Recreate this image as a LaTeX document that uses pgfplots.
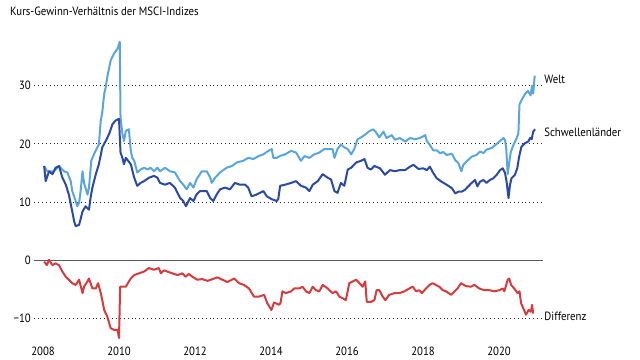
\documentclass[border=0pt]{standalone}
\usepackage{fontspec}
\setmainfont{PT Sans}[FakeStretch=0.9]
\usepackage{pgfplots}
\pgfplotsset{compat=1.18}
\definecolor{welt}{HTML}{5AA5DC}
\definecolor{schwell}{HTML}{2B4AA3}
\definecolor{diff}{HTML}{D63B3D}
\definecolor{zeroc}{HTML}{5A5A5A}
\begin{document}
\begin{tikzpicture}
\path[use as bounding box] (-34bp,-15bp) rectangle (606bp,345bp);
\node[anchor=base west, inner sep=0pt, font=\fontsize{12}{14}\selectfont] at (-24bp,329.5bp) {Kurs-Gewinn-Verhältnis der MSCI-Indizes};
\begin{axis}[
  scale only axis, width=509bp, height=309bp,
  xmin=2007.763, xmax=2021.158, ymin=-14.5, ymax=38.5,
  clip=false,
  axis line style={draw=none}, tick style={draw=none},
  xtick={2008,2010,2012,2014,2016,2018,2020},
  xticklabels={2008,2010,2012,2014,2016,2018,2020},
  ytick={-10,10,20,30},
  yticklabels={−10,10,20,30},
  extra y ticks={0}, extra y tick labels={0},
  ymajorgrids,
  major grid style={black!85, line width=0.8bp, dash pattern=on 0.8bp off 3.1bp},
  extra y tick style={major grid style={zeroc, line width=1.1bp, solid}},
  tick label style={font=\fontsize{12}{14}\selectfont},
  xticklabel style={anchor=north, inner sep=0pt, yshift=-2bp},
  yticklabel style={anchor=east, inner sep=0pt, xshift=-3bp},
  /pgf/number format/assume math mode=true,
  every axis plot/.append style={line width=2bp, line join=round},
]
\addplot[welt, sharp plot] coordinates {
(2008.03,16.2) (2008.11,15.3) (2008.29,15.3) (2008.42,16.2) (2008.55,15.3) (2008.64,15.1)
(2008.73,13.6) (2008.77,11.9) (2008.86,10.2) (2008.90,9.3) (2008.95,9.9) (2008.99,11.9)
(2009.04,15.3) (2009.08,13.3) (2009.17,11.3) (2009.21,12.5) (2009.27,17.1) (2009.34,18.2)
(2009.43,19.4) (2009.47,19.9) (2009.52,24.0) (2009.56,25.4) (2009.61,28.6) (2009.65,29.7)
(2009.69,31.4) (2009.78,34.3) (2009.87,35.5) (2009.96,36.3) (2010.02,37.5) (2010.04,24.5)
(2010.09,21.7) (2010.13,20.5) (2010.18,22.2) (2010.26,22.5) (2010.31,18.8) (2010.35,17.6)
(2010.40,17.1) (2010.48,15.1) (2010.57,15.6) (2010.66,15.9) (2010.75,15.6) (2010.83,15.9)
(2010.92,15.3) (2011.01,15.9) (2011.08,15.3) (2011.21,15.9) (2011.34,15.3) (2011.47,15.1)
(2011.61,13.6) (2011.69,13.0) (2011.78,12.2) (2011.87,13.3) (2011.96,12.5) (2012.04,13.9)
(2012.18,15.3) (2012.31,15.3) (2012.40,14.2) (2012.44,13.3) (2012.53,14.2) (2012.66,15.1)
(2012.83,15.9) (2012.97,16.2) (2013.10,16.8) (2013.27,17.1) (2013.40,17.6) (2013.54,17.4)
(2013.67,17.9) (2013.80,18.2) (2013.93,18.8) (2014.02,19.1) (2014.06,17.6) (2014.15,17.6)
(2014.23,17.9) (2014.37,18.2) (2014.53,18.8) (2014.66,18.5) (2014.79,17.1) (2014.88,17.9)
(2015.01,17.6) (2015.14,18.2) (2015.27,18.5) (2015.40,19.1) (2015.54,19.1) (2015.62,19.1)
(2015.67,17.6) (2015.75,19.1) (2015.84,19.9) (2015.93,19.4) (2016.02,19.1) (2016.11,18.2)
(2016.19,19.1) (2016.28,20.8) (2016.37,21.1) (2016.50,21.7) (2016.59,22.2) (2016.69,22.5)
(2016.76,22.0) (2016.85,21.1) (2016.96,22.1) (2017.04,21.0) (2017.18,21.5) (2017.26,20.7)
(2017.39,21.0) (2017.53,20.4) (2017.66,21.0) (2017.79,20.8) (2017.92,21.0) (2018.06,21.5)
(2018.10,20.5) (2018.18,19.8) (2018.27,18.9) (2018.36,18.9) (2018.45,18.4) (2018.54,18.6)
(2018.62,18.1) (2018.76,18.3) (2018.85,17.2) (2018.93,16.7) (2019.01,15.3) (2019.06,16.4)
(2019.15,17.0) (2019.28,17.8) (2019.41,18.1) (2019.50,18.7) (2019.59,18.4) (2019.67,19.0)
(2019.81,19.3) (2019.94,20.0) (2020.03,20.5) (2020.12,21.0) (2020.16,20.6) (2020.19,19.2)
(2020.23,14.8) (2020.27,16.8) (2020.31,18.6) (2020.38,19.8) (2020.46,20.9) (2020.51,21.8)
(2020.54,26.8) (2020.61,27.7) (2020.69,28.6) (2020.76,29.1) (2020.83,28.3) (2020.87,30.0)
(2020.90,28.6) (2020.94,31.7)
};
\addplot[schwell, sharp plot] coordinates {
(2008.03,16.2) (2008.07,13.6) (2008.16,15.3) (2008.25,14.8) (2008.33,15.9) (2008.42,16.2)
(2008.51,14.2) (2008.60,13.0) (2008.68,11.3) (2008.77,8.4) (2008.82,6.7) (2008.86,5.9)
(2008.95,6.1) (2009.04,8.4) (2009.12,9.3) (2009.21,8.7) (2009.25,10.7) (2009.30,12.5)
(2009.39,14.8) (2009.47,16.5) (2009.56,19.4) (2009.65,20.5) (2009.74,21.7) (2009.83,23.4)
(2009.91,24.0) (2010.00,24.3) (2010.03,19.9) (2010.04,18.5) (2010.09,17.6) (2010.13,16.5)
(2010.18,17.6) (2010.24,17.1) (2010.31,16.5) (2010.40,14.2) (2010.48,12.8) (2010.57,13.3)
(2010.66,13.6) (2010.79,14.2) (2010.92,14.5) (2011.01,14.2) (2011.08,13.3) (2011.21,13.0)
(2011.34,13.3) (2011.47,12.5) (2011.61,10.7) (2011.69,10.2) (2011.76,9.3) (2011.87,10.7)
(2011.96,10.2) (2012.04,11.3) (2012.13,11.9) (2012.31,11.9) (2012.40,10.7) (2012.48,10.2)
(2012.57,11.3) (2012.66,12.2) (2012.79,12.5) (2012.92,12.2) (2013.05,13.3) (2013.18,13.0)
(2013.32,13.0) (2013.40,12.5) (2013.49,11.0) (2013.62,11.3) (2013.71,11.6) (2013.80,11.9)
(2013.89,11.0) (2014.02,10.5) (2014.15,10.2) (2014.19,10.5) (2014.24,12.8) (2014.37,13.0)
(2014.53,13.3) (2014.66,13.6) (2014.79,12.8) (2014.92,12.5) (2015.01,11.9) (2015.10,13.0)
(2015.23,13.6) (2015.36,14.8) (2015.49,14.2) (2015.58,13.9) (2015.67,11.9) (2015.75,11.6)
(2015.84,13.3) (2015.93,12.8) (2016.02,15.6) (2016.11,15.9) (2016.24,16.8) (2016.37,17.1)
(2016.46,17.4) (2016.54,15.9) (2016.63,15.6) (2016.72,16.2) (2016.87,15.8) (2017.00,14.7)
(2017.13,15.5) (2017.26,15.3) (2017.39,15.5) (2017.53,15.5) (2017.66,16.1) (2017.75,16.4)
(2017.88,15.7) (2018.01,15.8) (2018.10,15.5) (2018.18,16.1) (2018.27,15.0) (2018.36,14.1)
(2018.49,13.5) (2018.62,13.0) (2018.76,12.4) (2018.85,11.5) (2018.93,11.8) (2019.02,11.8)
(2019.10,12.1) (2019.19,12.7) (2019.28,13.3) (2019.37,13.8) (2019.43,12.7) (2019.50,13.5)
(2019.59,13.8) (2019.67,13.3) (2019.76,13.8) (2019.85,14.1) (2019.94,14.7) (2020.03,15.5)
(2020.10,15.8) (2020.16,15.0) (2020.20,13.5) (2020.25,10.7) (2020.29,13.0) (2020.33,14.1)
(2020.42,14.7) (2020.48,15.8) (2020.53,17.8) (2020.59,19.5) (2020.68,20.1) (2020.77,20.4)
(2020.82,21.0) (2020.86,20.8) (2020.90,22.1) (2020.95,22.5)
};
\addplot[diff, sharp plot] coordinates {
(2008.03,-0.2) (2008.10,-0.8) (2008.16,0.1) (2008.25,-0.8) (2008.33,-0.5) (2008.42,-0.8)
(2008.51,-1.9) (2008.60,-2.8) (2008.68,-3.3) (2008.77,-3.9) (2008.86,-4.2) (2008.95,-3.3)
(2009.04,-5.6) (2009.08,-4.5) (2009.17,-3.6) (2009.21,-3.1) (2009.30,-4.8) (2009.39,-4.8)
(2009.45,-3.9) (2009.52,-5.6) (2009.56,-6.8) (2009.61,-8.5) (2009.69,-9.6) (2009.78,-11.6)
(2009.87,-11.9) (2009.96,-11.9) (2010.00,-13.3) (2010.03,-4.5) (2010.09,-4.5) (2010.18,-4.5)
(2010.26,-3.6) (2010.31,-3.1) (2010.40,-2.5) (2010.53,-2.2) (2010.66,-1.9) (2010.79,-1.3)
(2010.92,-1.6) (2011.05,-1.3) (2011.10,-2.2) (2011.18,-1.7) (2011.27,-1.9) (2011.40,-2.2)
(2011.54,-2.5) (2011.67,-2.2) (2011.75,-2.8) (2011.84,-2.3) (2011.93,-2.8) (2012.06,-3.3)
(2012.19,-3.2) (2012.33,-3.5) (2012.46,-3.2) (2012.59,-2.9) (2012.72,-3.3) (2012.85,-3.7)
(2013.03,-3.1) (2013.16,-3.9) (2013.29,-4.2) (2013.42,-4.8) (2013.55,-6.2) (2013.68,-6.2)
(2013.82,-5.9) (2013.90,-7.3) (2014.01,-8.5) (2014.08,-7.2) (2014.21,-7.6) (2014.25,-7.3)
(2014.30,-5.3) (2014.39,-5.6) (2014.53,-5.3) (2014.61,-4.8) (2014.75,-4.8) (2014.83,-4.5)
(2014.92,-5.3) (2015.01,-5.6) (2015.10,-4.5) (2015.18,-5.1) (2015.27,-5.3) (2015.36,-4.2)
(2015.49,-4.8) (2015.62,-5.6) (2015.71,-5.3) (2015.80,-6.2) (2015.89,-6.5) (2015.97,-6.8)
(2016.06,-3.9) (2016.15,-3.6) (2016.24,-3.3) (2016.33,-3.9) (2016.41,-4.5) (2016.48,-3.6)
(2016.52,-7.1) (2016.63,-7.1) (2016.72,-6.8) (2016.78,-5.1) (2016.85,-5.1) (2016.94,-6.2)
(2017.01,-6.8) (2017.11,-5.9) (2017.25,-5.6) (2017.38,-5.6) (2017.51,-5.3) (2017.64,-4.8)
(2017.73,-4.5) (2017.82,-5.3) (2017.90,-5.1) (2017.97,-5.6) (2018.08,-4.8) (2018.17,-4.2)
(2018.25,-3.9) (2018.34,-4.2) (2018.43,-4.5) (2018.52,-5.1) (2018.61,-5.3) (2018.74,-5.9)
(2018.83,-5.3) (2018.91,-4.8) (2019.00,-3.9) (2019.13,-4.4) (2019.26,-4.5) (2019.35,-4.2)
(2019.48,-4.8) (2019.61,-5.1) (2019.75,-5.1) (2019.88,-5.3) (2020.01,-5.1) (2020.10,-4.8)
(2020.14,-5.3) (2020.23,-3.3) (2020.27,-3.1) (2020.32,-4.2) (2020.40,-4.8) (2020.49,-5.6)
(2020.54,-5.3) (2020.58,-7.3) (2020.64,-8.2) (2020.71,-9.3) (2020.78,-8.5) (2020.84,-8.8)
(2020.87,-7.6) (2020.90,-9.1)
};
\node[anchor=west, inner sep=0pt, font=\fontsize{12}{14}\selectfont] at (axis cs:2021.19,31.0) {Welt};
\node[anchor=west, inner sep=0pt, font=\fontsize{12}{14}\selectfont] at (axis cs:2021.19,21.9) {Schwellenländer};
\node[anchor=west, inner sep=0pt, font=\fontsize{12}{14}\selectfont] at (axis cs:2021.19,-9.5) {Differenz};
\end{axis}
\end{tikzpicture}
\end{document}
